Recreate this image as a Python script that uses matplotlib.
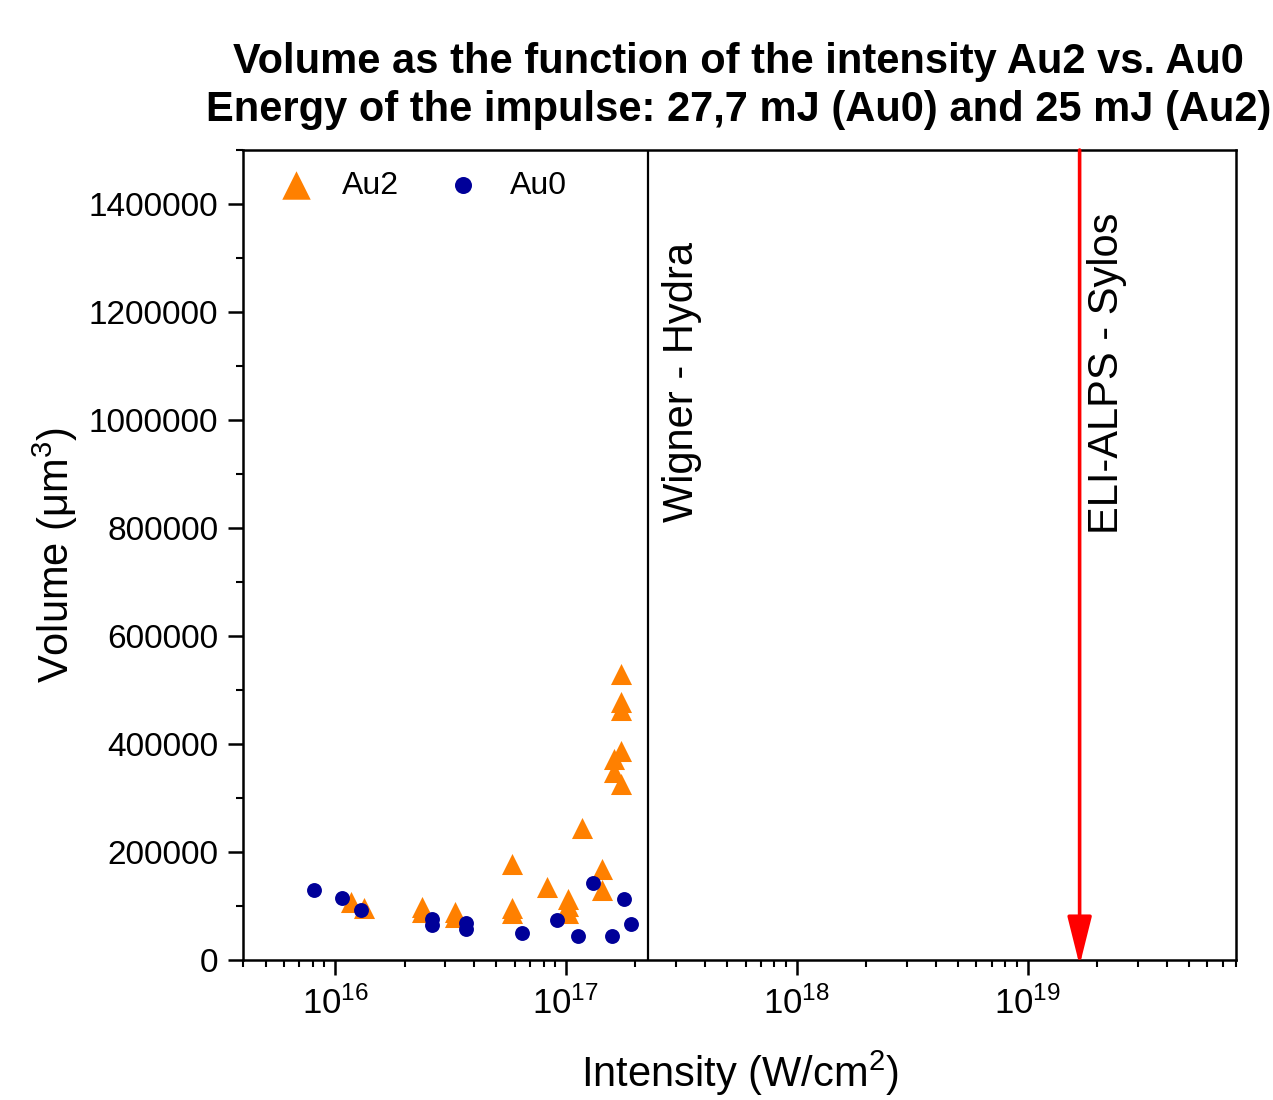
import matplotlib
matplotlib.use("Agg")
import matplotlib.pyplot as plt
from matplotlib.ticker import LogLocator, MultipleLocator, FixedLocator

plt.rcParams['font.family'] = ['Liberation Sans', 'DejaVu Sans']

# Au2 triangles: intensity (W/cm2) and volume (um3)
au2_int = [1.17e16, 1.34e16, 2.38e16, 2.38e16, 3.30e16, 3.30e16, 5.86e16, 5.86e16, 5.86e16,
           8.26e16, 1.02e17, 1.02e17, 1.02e17, 1.18e17, 1.44e17, 1.44e17,
           1.73e17, 1.73e17, 1.73e17, 1.73e17, 1.61e17, 1.61e17, 1.73e17]
au2_vol = [106700, 95600, 98600, 89300, 88200, 79000, 177000, 95600, 86400,
           134600, 113200, 99900, 86900, 244700, 167900, 129500,
           528900, 477700, 463600, 387100, 373000, 348200, 326800]

# Au0 circles
au0_int = [8.1e15, 1.07e16, 1.30e16, 2.63e16, 2.63e16, 3.69e16, 3.69e16, 6.47e16,
           9.17e16, 1.127e17, 1.31e17, 1.59e17, 1.79e17, 1.91e17]
au0_vol = [128900, 114100, 92500, 75300, 64700, 67900, 56800, 49400,
           74000, 43500, 143000, 45300, 112400, 65700]

wigner_int = 2.26e17
eli_int = 1.68e19

fig = plt.figure(figsize=(12.73, 11), dpi=100)
ax = fig.add_axes([0.191, 0.1273, 0.780, 0.7363])

ax.scatter(au2_int, au2_vol, marker='^', s=230, color='#FF8000', linewidths=0,
           label='Au2', zorder=3)
ax.scatter(au0_int, au0_vol, marker='o', s=115, color='#000099', linewidths=0,
           label='Au0', zorder=4)

ax.axvline(wigner_int, color='black', lw=1.6, zorder=2)
ax.annotate('', xy=(eli_int, -10000), xytext=(eli_int, 1500000),
            arrowprops=dict(arrowstyle='-|>,head_length=3.0,head_width=0.75',
                            color='red', lw=2.6, shrinkA=0, shrinkB=0),
            annotation_clip=False, zorder=5)

ax.text(3.2e17, 1070000, 'Wigner - Hydra', rotation=90, fontsize=30,
        ha='center', va='center')
ax.text(2.2e19, 1087000, 'ELI-ALPS - Sylos', rotation=90, fontsize=30,
        ha='center', va='center')

ax.set_xscale('log')
ax.set_xlim(4e15, 8e19)
ax.set_ylim(0, 1500000)

ax.xaxis.set_major_locator(FixedLocator([1e16, 1e17, 1e18, 1e19]))
ax.xaxis.set_minor_locator(LogLocator(base=10, subs=range(2, 10), numticks=20))
ax.set_xticklabels([r'$\mathregular{10^{16}}$', r'$\mathregular{10^{17}}$',
                    r'$\mathregular{10^{18}}$', r'$\mathregular{10^{19}}$'])
ax.yaxis.set_major_locator(FixedLocator([0, 200000, 400000, 600000, 800000,
                                         1000000, 1200000, 1400000]))
ax.yaxis.set_minor_locator(MultipleLocator(100000))
ax.set_yticklabels(['0', '200000', '400000', '600000', '800000',
                    '1000000', '1200000', '1400000'])

ax.tick_params(which='major', direction='out', length=11, width=1.8,
               labelsize=24, pad=7)
ax.tick_params(which='minor', direction='out', length=5, width=1.5)
ax.tick_params(axis='x', which='major', labelsize=25, pad=8)
for sp in ax.spines.values():
    sp.set_linewidth(1.8)

ax.set_xlabel(r'Intensity (W/cm$\mathregular{^2}$)', fontsize=30, labelpad=20)
ax.set_ylabel(r'Volume ($\mathregular{\mu}$m$\mathregular{^3}$)', fontsize=30, labelpad=6)

leg = ax.legend(loc='upper left', ncol=2, frameon=False, fontsize=23,
                handlelength=2.0, handletextpad=0.45, columnspacing=1.0,
                borderaxespad=0.25, bbox_to_anchor=(0.0, 1.0))
leg.legend_handles[0].set_sizes([420])
leg.legend_handles[1].set_sizes([150])

fig.suptitle('Volume as the function of the intensity Au2 vs. Au0\n'
             'Energy of the impulse: 27,7 mJ (Au0) and 25 mJ (Au2)',
             x=0.58, y=0.962, fontsize=30, fontweight='bold', linespacing=1.28)

fig.savefig('out.png', dpi=100)
